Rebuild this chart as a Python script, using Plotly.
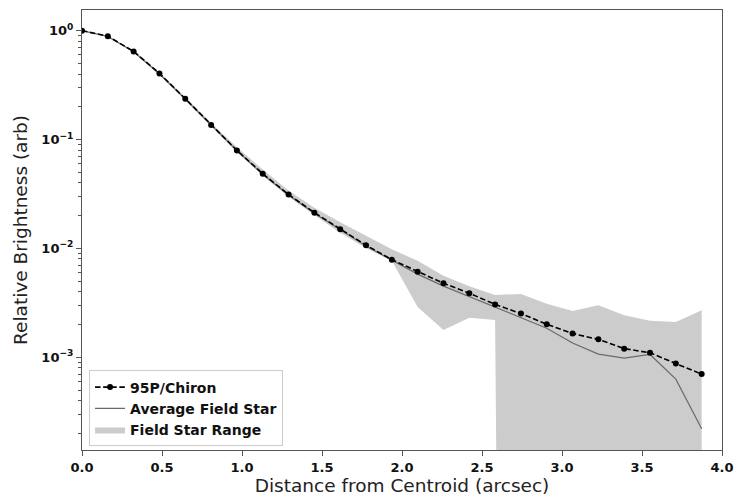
import numpy as np
import plotly.graph_objects as go

# Data
dist = [i * 0.16137 for i in range(25)]
chiron = [1.0, 0.89, 0.645, 0.405, 0.237, 0.136, 0.0795, 0.0485, 0.0313, 0.0213,
          0.0150, 0.0107, 0.00788, 0.00610, 0.00478, 0.00388, 0.00306, 0.00252,
          0.00201, 0.00165, 0.00146, 0.00120, 0.00110, 0.000875, 0.000700]
avg_star = [1.0, 0.885, 0.64, 0.40, 0.235, 0.135, 0.079, 0.048, 0.031, 0.021,
            0.0148, 0.0105, 0.0078, 0.0058, 0.0045, 0.0036, 0.0029, 0.0023,
            0.00185, 0.00135, 0.00107, 0.00098, 0.00106, 0.00063, 0.00022]
range_hi = [1.0, 0.90, 0.655, 0.415, 0.245, 0.142, 0.085, 0.053, 0.0341, 0.0236,
            0.0174, 0.0130, 0.0098, 0.0077, 0.0056, 0.0045, 0.00374, 0.00382,
            0.00310, 0.00266, 0.00300, 0.00243, 0.00216, 0.00211, 0.00270]
range_lo = [0.99, 0.88, 0.635, 0.395, 0.23, 0.132, 0.0765, 0.0465, 0.0298, 0.0203,
            0.0139, 0.0101, 0.0077, 0.00289, 0.00178, 0.00231, 0.0022, 1e-30,
            1e-30, 1e-30, 1e-30, 1e-30, 1e-30, 1e-30, 1e-30]

x_ticks = [0.0, 0.5, 1.0, 1.5, 2.0, 2.5, 3.0, 3.5, 4.0]
y_ticks = [1, 0.1, 0.01, 0.001]
y_labels = ["<b>10<sup>0</sup></b>", "<b>10<sup>−1</sup></b>",
            "<b>10<sup>−2</sup></b>", "<b>10<sup>−3</sup></b>"]

minor_vals = [k * 10.0 ** e for e in range(-4, 1) for k in range(2, 10)]

fig = go.Figure()
fig.add_trace(go.Scatter(x=dist, y=range_lo, mode="lines", line=dict(width=0, color="#cccccc"),
                         showlegend=False, hoverinfo="skip"))
fig.add_trace(go.Scatter(x=dist, y=range_hi, mode="lines", line=dict(width=0, color="#cccccc"),
                         fill="tonexty", fillcolor="#cccccc", name="Field Star Range", legendrank=3))
fig.add_trace(go.Scatter(x=dist, y=avg_star, mode="lines", line=dict(width=1.2, color="#6a6a6a"),
                         name="Average Field Star", legendrank=2))
fig.add_trace(go.Scatter(x=dist, y=chiron, mode="lines+markers",
                         line=dict(width=1.6, color="black", dash="5.5px,2.6px"),
                         marker=dict(size=6, color="black"),
                         name="95P/Chiron", legendrank=1))

axis_common = dict(showline=True, linecolor="#555555", linewidth=1, mirror=True,
                   ticks="outside", ticklen=5, tickcolor="#555555", showgrid=False,
                   zeroline=False,
                   tickfont=dict(family="DejaVu Sans", size=13, color="#111111", weight="bold"),
                   title_font=dict(family="DejaVu Sans", size=18.5, color="#222222"))

fig.update_layout(
    width=743, height=500,
    margin=dict(l=82, r=20, t=9, b=45),
    paper_bgcolor="white", plot_bgcolor="white",
    xaxis=dict(range=[0, 4.0], tickvals=x_ticks, ticktext=[f"{v:.1f}" for v in x_ticks],
               title=dict(text="Distance from Centroid (arcsec)", standoff=3), **axis_common),
    yaxis=dict(type="log", range=[-3.852, 0.19], tickvals=y_ticks, ticktext=y_labels,
               minor=dict(tickmode="array", tickvals=minor_vals, ticks="outside", ticklen=3,
                          tickcolor="#555555", showgrid=False),
               title=dict(text="Relative Brightness (arb)", standoff=8), **axis_common),
    legend=dict(x=0.011, y=0.008, xanchor="left", yanchor="bottom", traceorder="normal",
                bgcolor="rgba(255,255,255,0.85)", bordercolor="#cccccc", borderwidth=1,
                font=dict(family="DejaVu Sans", size=14, color="#111111", weight="bold"),
                tracegroupgap=0, itemwidth=30),
    showlegend=True,
)

fig.write_html("out.html")
